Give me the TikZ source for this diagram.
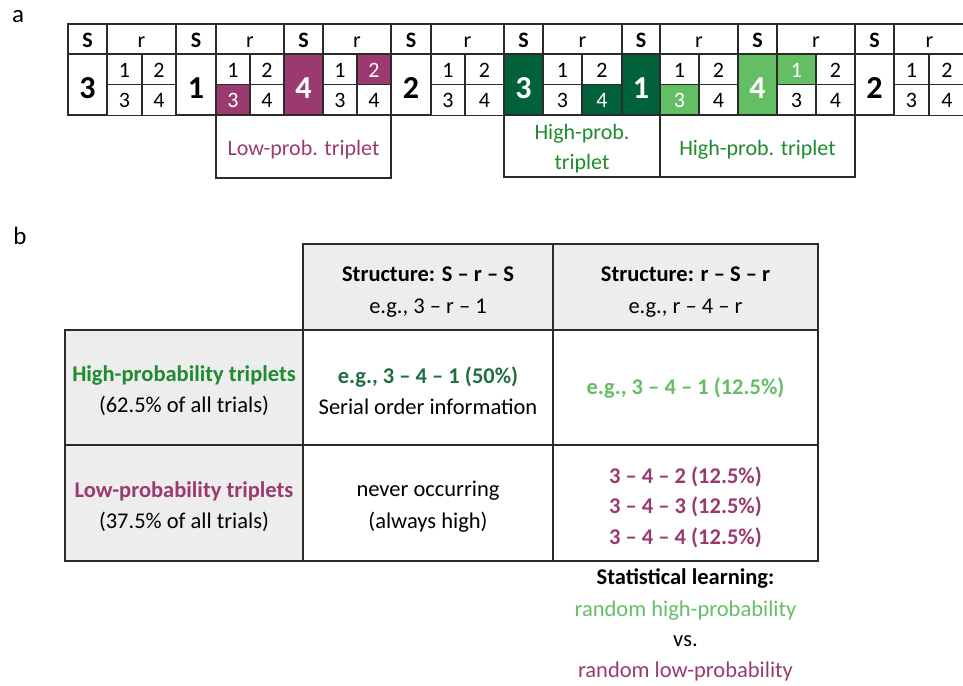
\documentclass[tikz,border=0pt]{standalone}
\usepackage{fontspec}
\setmainfont{Carlito}
\definecolor{pur}{HTML}{9B3A6E}
\definecolor{dkg}{HTML}{00613A}
\definecolor{ltg}{HTML}{64BE64}
\definecolor{txg}{HTML}{1E8C2E}
\definecolor{txdg}{HTML}{1F6E3F}
\definecolor{hdrgray}{HTML}{EDEDED}
\definecolor{linec}{HTML}{2B2B2B}
% text colour that goes with each cell fill
\colorlet{whiteT}{black}
\colorlet{purT}{white}
\colorlet{dkgT}{white}
\colorlet{ltgT}{white}
\begin{document}
\begin{tikzpicture}[x=1pt,y=-1pt,
  cell/.style={draw=linec, line width=1.3pt, inner sep=0pt, outer sep=0pt,
    font=\fontsize{22}{26}\selectfont, text height=15.5pt, text depth=0pt},
  hdrcell/.style={cell, minimum height=30pt, text height=18pt},
  bigcell/.style={cell, minimum height=61pt, text height=27.5pt,
    font=\fontsize{32}{37}\selectfont\bfseries},
  subcell/.style={cell, minimum height=30.5pt},
  tripbox/.style={draw=linec, line width=1.3pt, inner sep=0pt, outer sep=0pt},
  triptext/.style={align=center, font=\fontsize{22}{30}\selectfont},
  tcell/.style={draw=linec, line width=1.5pt, inner sep=0pt, outer sep=0pt},
  ttext/.style={align=center, inner sep=0pt, font=\fontsize{22.5}{31.5}\selectfont},
  panel/.style={font=\fontsize{25}{30}\selectfont},
  note/.style={anchor=base, font=\fontsize{22.5}{26}\selectfont}
]
\useasboundingbox (0,0) rectangle (963,685);

% panel labels
\node[panel] (la) at (18,17) {a};
\node[panel] (lb) at (20,236) {b};

% sequence of S / r segments
\foreach \i/\xa/\xb/\xm/\xc/\dig/\sfl/\pa/\pb/\pc/\pd in {
  1/68/107/142/176/3/white/white/white/white/white,
  2/176/216/250/284/1/white/white/white/pur/white,
  3/284/323/357/391/4/pur/white/pur/white/white,
  4/391/431/465/504/2/white/white/white/white/white,
  5/504/543/582/622/3/dkg/white/white/white/dkg,
  6/622/660/699/738/1/dkg/white/white/ltg/white,
  7/738/777/816/855/4/ltg/ltg/white/white/white,
  8/855/894/929/965/2/white/white/white/white/white}{
  \node[hdrcell, font=\fontsize{22}{26}\selectfont\bfseries,
        minimum width={(\xb-\xa)*1pt}] (hS\i) at ({(\xa+\xb)/2},39) {S};
  \node[hdrcell, minimum width={(\xc-\xb)*1pt}] (hr\i) at ({(\xb+\xc)/2},39) {r};
  \node[bigcell, fill=\sfl, text=\sfl T,
        minimum width={(\xb-\xa)*1pt}] (S\i) at ({(\xa+\xb)/2},84.5) {\dig};
  \node[subcell, fill=\pa, text=\pa T,
        minimum width={(\xm-\xb)*1pt}] (a\i) at ({(\xb+\xm)/2},69.5) {1};
  \node[subcell, fill=\pb, text=\pb T,
        minimum width={(\xc-\xm)*1pt}] (b\i) at ({(\xm+\xc)/2},69.5) {2};
  \node[subcell, fill=\pc, text=\pc T,
        minimum width={(\xm-\xb)*1pt}] (c\i) at ({(\xb+\xm)/2},100) {3};
  \node[subcell, fill=\pd, text=\pd T,
        minimum width={(\xc-\xm)*1pt}] (d\i) at ({(\xm+\xc)/2},100) {4};
}

% triplet boxes under the sequence
\node[tripbox, minimum width=175pt, minimum height=63pt] (lowtrip) at (303.5,146.5) {};
\node[tripbox, minimum width=156pt, minimum height=62pt] (hightripA) at (582,146) {};
\node[tripbox, minimum width=195pt, minimum height=62pt] (hightripB) at (757.5,146) {};
\node[triptext, text=pur] (lowtxt) at ([yshift=-3pt]lowtrip.center) {Low-prob. triplet};
\node[triptext, text=txg] (hightxtA) at ([yshift=-3pt]hightripA.center) {High-prob.\\triplet};
\node[triptext, text=txg] (hightxtB) at ([yshift=-4pt]hightripB.center) {High-prob. triplet};

% table cells
\node[tcell, fill=hdrgray, minimum width=250pt, minimum height=86pt] (hsrs) at (428,287) {};
\node[tcell, fill=hdrgray, minimum width=265pt, minimum height=86pt] (hrsr) at (685.5,287) {};
\node[tcell, fill=hdrgray, minimum width=238pt, minimum height=115pt] (rhigh) at (184,387.5) {};
\node[tcell, fill=hdrgray, minimum width=238pt, minimum height=116pt] (rlow) at (184,503) {};
\node[tcell, minimum width=250pt, minimum height=115pt] (c11) at (428,387.5) {};
\node[tcell, minimum width=265pt, minimum height=115pt] (c12) at (685.5,387.5) {};
\node[tcell, minimum width=250pt, minimum height=116pt] (c21) at (428,503) {};
\node[tcell, minimum width=265pt, minimum height=116pt] (c22) at (685.5,503) {};

% table texts
\node[ttext] (thsrs) at ([yshift=-5pt]hsrs.center)
  {\textbf{Structure: S – r – S}\\e.g., 3 – r – 1};
\node[ttext] (thrsr) at ([yshift=-5pt]hrsr.center)
  {\textbf{Structure: r – S – r}\\e.g., r – 4 – r};
\node[ttext] (trhigh) at ([yshift=-3pt]rhigh.center)
  {\textcolor{txg}{\textbf{High-probability triplets}}\\(62.5\% of all trials)};
\node[ttext] (trlow) at ([yshift=-3.5pt]rlow.center)
  {\textcolor{pur}{\textbf{Low-probability triplets}}\\(37.5\% of all trials)};
\node[ttext] (tc11) at ([yshift=-3pt]c11.center)
  {\textcolor{txdg}{\textbf{e.g., 3 – 4 – 1 (50\%)}}\\Serial order information};
\node[ttext, text=ltg, font=\fontsize{22.5}{31.5}\selectfont\bfseries] (tc12) at ([yshift=-1pt]c12.center)
  {e.g., 3 – 4 – 1 (12.5\%)};
\node[ttext] (tc21) at ([yshift=-3.5pt]c21.center)
  {never occurring\\(always high)};
\node[ttext, text=pur, font=\fontsize{22.5}{30.5}\selectfont\bfseries] (tc22) at ([yshift=-4pt]c22.center)
  {3 – 4 – 2 (12.5\%)\\3 – 4 – 3 (12.5\%)\\3 – 4 – 4 (12.5\%)};

% note under the table
\node[note, font=\fontsize{22.5}{26}\selectfont\bfseries] (st1) at (685.5,584) {Statistical learning:};
\node[note, text=ltg] (st2) at (685.5,616) {random high-probability};
\node[note] (st3) at (685.5,646) {vs.};
\node[note, text=pur] (st4) at (685.5,677) {random low-probability};
\end{tikzpicture}
\end{document}
